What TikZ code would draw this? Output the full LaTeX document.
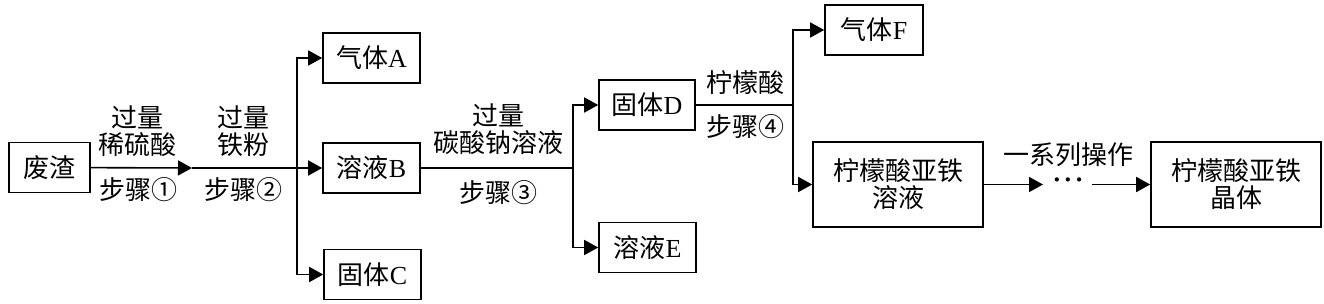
\documentclass[tikz,border=0pt]{standalone}
\usepackage{fontspec}
\setmainfont{Liberation Serif}
\newfontfamily\cjk{Noto Sans CJK SC}
\usetikzlibrary{arrows.meta}

\begin{document}
\begin{tikzpicture}[x=1pt, y=-1pt, font=\cjk\fontsize{26}{27}\selectfont]
\tikzstyle{block} = [draw, rectangle, line width=1.6pt, minimum height=50pt, minimum width=97pt, text centered, inner sep=0pt]
\tikzstyle{bigblock} = [block, minimum height=85pt, minimum width=170pt, align=center]
\tikzstyle{line} = [draw, line width=1.6pt, -{Triangle[length=14pt, width=15pt]}]
\tikzstyle{wire} = [draw, line width=1.6pt]
\tikzstyle{note} = [align=center, inner sep=0pt]

\useasboundingbox (0,0) rectangle (1324,304);

\node [block, minimum width=81pt] (waste) at (49.5,167.5) {废渣};
\node [block] (gasA) at (371.5,58) {气体\textrm{A}};
\node [block] (solB) at (371.5,168) {溶液\textrm{B}};
\node [block] (solidC) at (372.5,274.5) {固体\textrm{C}};
\node [block, minimum width=96pt] (solidD) at (647,105) {固体\textrm{D}};
\node [block] (solE) at (647.5,247.5) {溶液\textrm{E}};
\node [block, minimum width=98pt] (gasF) at (874,30) {气体\textrm{F}};
\node [bigblock] (feSol) at (898,184.5) {柠檬酸亚铁\\溶液};
\node [bigblock] (crystal) at (1236,184.5) {柠檬酸亚铁\\晶体};

\coordinate (tip1) at (192,168);
\coordinate (fork1) at (297,168);
\coordinate (fork2) at (573,168);
\coordinate (fork3) at (793,105);
\coordinate (tip5) at (1043,184.5);
\coordinate (dotsR) at (1092,184.5);
\node [note] (dots) at (1068,183) {\textrm{\bfseries ·\hspace{2.5pt}·\hspace{2.5pt}·}};

\node [note] (acid1) at (137,131.5) {过量\\稀硫酸};
\node [note] (step1) at (138,190) {步骤①};
\node [note] (iron2) at (243,131.5) {过量\\铁粉};
\node [note] (step2) at (243,190) {步骤②};
\node [note] (soda3) at (498,129) {过量\\碳酸钠溶液};
\node [note] (step3) at (498,193) {步骤③};
\node [note] (citric4) at (745,83) {柠檬酸};
\node [note] (step4) at (745,127) {步骤④};
\node [note] (ops) at (1068,155) {一系列操作};

\path [line] (waste) -- (tip1);
\path [wire] (tip1) -- (fork1);
\path [line] (fork1) |- (gasA);
\path [line] (fork1) -- (solB);
\path [line] (fork1) |- (solidC);

\path [wire] (solB) -- (fork2);
\path [line] (fork2) |- (solidD);
\path [line] (fork2) |- (solE);

\path [wire] (solidD) -- (fork3);
\path [line] (fork3) |- (gasF);
\path [line] (fork3) |- (feSol);

\path [line] (feSol) -- (tip5);
\path [line] (dotsR) -- (crystal);

\end{tikzpicture}
\end{document}
